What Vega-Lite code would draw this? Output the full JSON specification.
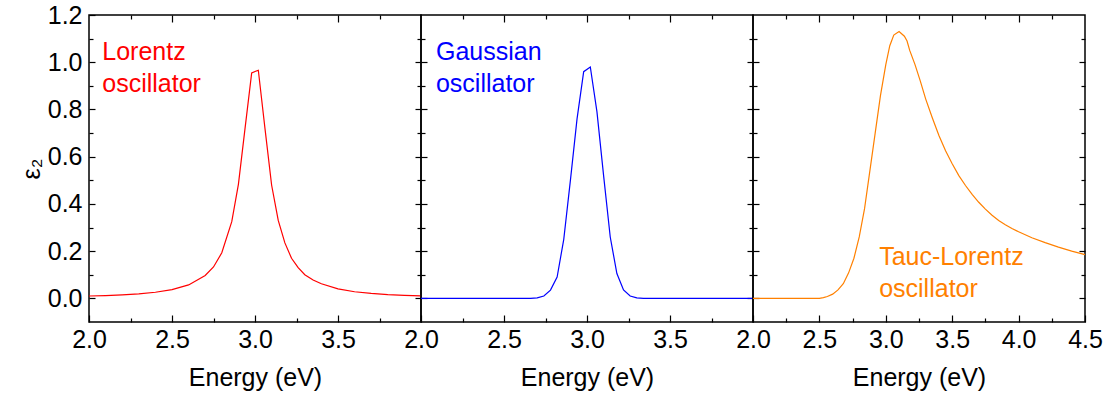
{
  "$schema": "https://vega.github.io/schema/vega-lite/v6.json",
  "padding": {"left": 18, "top": 2, "right": 5, "bottom": 4},
  "spacing": 0,
  "bounds": "flush",
  "config": {
    "font": "Liberation Sans",
    "view": {"stroke": "#000000", "strokeWidth": 1.5},
    "axis": {
      "labelFont": "Liberation Sans", "titleFont": "Liberation Sans",
      "labelFontSize": 25, "titleFontSize": 25, "titleFontWeight": "normal",
      "labelColor": "#000000", "titleColor": "#000000", "tickColor": "#000000",
      "tickWidth": 1.2, "grid": false, "domain": false, "labelFlush": false, "labelOverlap": false
    }
  },
  "datasets": {
    "lorentz": [
      {"E": 2.0, "eps": 0.010}, {"E": 2.1, "eps": 0.012}, {"E": 2.2, "eps": 0.015}, {"E": 2.3, "eps": 0.019},
      {"E": 2.4, "eps": 0.026}, {"E": 2.5, "eps": 0.037}, {"E": 2.6, "eps": 0.057}, {"E": 2.7, "eps": 0.097},
      {"E": 2.75, "eps": 0.133}, {"E": 2.8, "eps": 0.193}, {"E": 2.86, "eps": 0.325}, {"E": 2.9, "eps": 0.483},
      {"E": 2.94, "eps": 0.72}, {"E": 2.98, "eps": 0.955}, {"E": 3.02, "eps": 0.966}, {"E": 3.06, "eps": 0.72},
      {"E": 3.1, "eps": 0.48}, {"E": 3.14, "eps": 0.33}, {"E": 3.18, "eps": 0.235}, {"E": 3.22, "eps": 0.17},
      {"E": 3.26, "eps": 0.13}, {"E": 3.3, "eps": 0.10}, {"E": 3.35, "eps": 0.078}, {"E": 3.4, "eps": 0.062},
      {"E": 3.5, "eps": 0.040}, {"E": 3.6, "eps": 0.028}, {"E": 3.7, "eps": 0.021}, {"E": 3.8, "eps": 0.016},
      {"E": 3.9, "eps": 0.013}, {"E": 4.0, "eps": 0.011}
    ],
    "gauss": [
      {"E": 2.0, "eps": 0}, {"E": 2.66, "eps": 0}, {"E": 2.7, "eps": 0.002}, {"E": 2.74, "eps": 0.010},
      {"E": 2.78, "eps": 0.035}, {"E": 2.82, "eps": 0.09}, {"E": 2.86, "eps": 0.25}, {"E": 2.9, "eps": 0.50},
      {"E": 2.94, "eps": 0.76}, {"E": 2.98, "eps": 0.96}, {"E": 3.02, "eps": 0.98}, {"E": 3.06, "eps": 0.79},
      {"E": 3.1, "eps": 0.52}, {"E": 3.14, "eps": 0.26}, {"E": 3.18, "eps": 0.105}, {"E": 3.22, "eps": 0.036},
      {"E": 3.26, "eps": 0.010}, {"E": 3.3, "eps": 0.002}, {"E": 3.34, "eps": 0}, {"E": 4.0, "eps": 0}
    ],
    "tauc": [
      {"E": 2.0, "eps": 0}, {"E": 2.5, "eps": 0}, {"E": 2.53, "eps": 0.003}, {"E": 2.56, "eps": 0.008},
      {"E": 2.6, "eps": 0.018}, {"E": 2.64, "eps": 0.036}, {"E": 2.68, "eps": 0.062}, {"E": 2.72, "eps": 0.108},
      {"E": 2.76, "eps": 0.17}, {"E": 2.8, "eps": 0.26}, {"E": 2.84, "eps": 0.38}, {"E": 2.88, "eps": 0.54},
      {"E": 2.92, "eps": 0.70}, {"E": 2.96, "eps": 0.86}, {"E": 3.0, "eps": 0.99}, {"E": 3.03, "eps": 1.07},
      {"E": 3.06, "eps": 1.115}, {"E": 3.1, "eps": 1.13}, {"E": 3.14, "eps": 1.11}, {"E": 3.16, "eps": 1.09},
      {"E": 3.18, "eps": 1.05}, {"E": 3.22, "eps": 0.99}, {"E": 3.26, "eps": 0.92}, {"E": 3.3, "eps": 0.845},
      {"E": 3.35, "eps": 0.765}, {"E": 3.4, "eps": 0.69}, {"E": 3.45, "eps": 0.625}, {"E": 3.5, "eps": 0.57},
      {"E": 3.55, "eps": 0.52}, {"E": 3.6, "eps": 0.478}, {"E": 3.65, "eps": 0.44}, {"E": 3.7, "eps": 0.407},
      {"E": 3.75, "eps": 0.378}, {"E": 3.8, "eps": 0.352}, {"E": 3.85, "eps": 0.33}, {"E": 3.9, "eps": 0.312},
      {"E": 3.95, "eps": 0.296}, {"E": 4.0, "eps": 0.282}, {"E": 4.1, "eps": 0.257}, {"E": 4.2, "eps": 0.236},
      {"E": 4.3, "eps": 0.217}, {"E": 4.4, "eps": 0.20}, {"E": 4.5, "eps": 0.185}
    ]
  },
  "hconcat": [
    {
      "width": 332, "height": 307,
      "data": {"name": "lorentz"},
      "layer": [
        {"mark": {"type": "line", "color": "#ff0000", "strokeWidth": 1.2},
         "encoding": {
           "x": {"field": "E", "type": "quantitative", "scale": {"domain": [2, 4], "nice": false},
                 "axis": {"orient": "bottom", "values": [2, 2.5, 3, 3.5], "format": ".1f", "tickSize": -7, "labelPadding": 12, "title": "Energy (eV)", "titlePadding": 13}},
           "y": {"field": "eps", "type": "quantitative", "scale": {"domain": [-0.1, 1.2], "nice": false, "zero": false},
                 "axis": {"orient": "left", "values": [0, 0.2, 0.4, 0.6, 0.8, 1.0, 1.2], "format": ".1f", "tickSize": -6, "labelPadding": 13, "title": "ε₂", "titlePadding": 3}}
         }},
        {"mark": {"type": "line", "strokeOpacity": 0},
         "encoding": {
           "x": {"field": "E", "type": "quantitative", "scale": {"domain": [2, 4], "nice": false},
                 "axis": {"orient": "bottom", "values": [2.25, 2.75, 3.25, 3.75], "labels": false, "tickSize": -4, "title": null}},
           "y": {"field": "eps", "type": "quantitative", "scale": {"domain": [-0.1, 1.2], "nice": false, "zero": false},
                 "axis": {"orient": "left", "values": [0.1, 0.3, 0.5, 0.7, 0.9, 1.1], "labels": false, "tickSize": -4, "title": null}}
         }},
        {"mark": {"type": "line", "strokeOpacity": 0},
         "encoding": {
           "x": {"field": "E", "type": "quantitative", "scale": {"domain": [2, 4], "nice": false},
                 "axis": {"orient": "top", "values": [2.5, 3, 3.5], "labels": false, "tickSize": -7, "title": null}},
           "y": {"field": "eps", "type": "quantitative", "scale": {"domain": [-0.1, 1.2], "nice": false, "zero": false},
                 "axis": {"orient": "right", "values": [0, 0.2, 0.4, 0.6, 0.8, 1.0], "labels": false, "tickSize": -6, "title": null}}
         }},
        {"mark": {"type": "line", "strokeOpacity": 0},
         "encoding": {
           "x": {"field": "E", "type": "quantitative", "scale": {"domain": [2, 4], "nice": false},
                 "axis": {"orient": "top", "values": [2.25, 2.75, 3.25, 3.75], "labels": false, "tickSize": -4, "title": null}},
           "y": {"field": "eps", "type": "quantitative", "scale": {"domain": [-0.1, 1.2], "nice": false, "zero": false},
                 "axis": {"orient": "right", "values": [0.1, 0.3, 0.5, 0.7, 0.9, 1.1], "labels": false, "tickSize": -4, "title": null}}
         }},
        {"data": {"values": [{"label": "Lorentz"}]},
         "mark": {"type": "text", "color": "#ff0000", "fontSize": 25, "font": "Liberation Sans", "align": "left", "baseline": "alphabetic", "lineHeight": 32, "text": ["Lorentz", "oscillator"]},
         "encoding": {
           "x": {"datum": 2.08, "type": "quantitative", "axis": null},
           "y": {"datum": 1.01, "type": "quantitative", "axis": null}
         }}
      ],
      "resolve": {"axis": {"x": "independent", "y": "independent"}}
    },
    {
      "width": 332, "height": 307,
      "data": {"name": "gauss"},
      "layer": [
        {"mark": {"type": "line", "color": "#0000ff", "strokeWidth": 1.2},
         "encoding": {
           "x": {"field": "E", "type": "quantitative", "scale": {"domain": [2, 4], "nice": false},
                 "axis": {"orient": "bottom", "values": [2, 2.5, 3, 3.5], "format": ".1f", "tickSize": -7, "labelPadding": 12, "title": "Energy (eV)", "titlePadding": 13}},
           "y": {"field": "eps", "type": "quantitative", "scale": {"domain": [-0.1, 1.2], "nice": false, "zero": false},
                 "axis": {"orient": "left", "values": [0, 0.2, 0.4, 0.6, 0.8, 1.0], "labels": false, "tickSize": -6, "title": null}}
         }},
        {"mark": {"type": "line", "strokeOpacity": 0},
         "encoding": {
           "x": {"field": "E", "type": "quantitative", "scale": {"domain": [2, 4], "nice": false},
                 "axis": {"orient": "bottom", "values": [2.25, 2.75, 3.25, 3.75], "labels": false, "tickSize": -4, "title": null}},
           "y": {"field": "eps", "type": "quantitative", "scale": {"domain": [-0.1, 1.2], "nice": false, "zero": false},
                 "axis": {"orient": "left", "values": [0.1, 0.3, 0.5, 0.7, 0.9, 1.1], "labels": false, "tickSize": -4, "title": null}}
         }},
        {"mark": {"type": "line", "strokeOpacity": 0},
         "encoding": {
           "x": {"field": "E", "type": "quantitative", "scale": {"domain": [2, 4], "nice": false},
                 "axis": {"orient": "top", "values": [2.5, 3, 3.5], "labels": false, "tickSize": -7, "title": null}},
           "y": {"field": "eps", "type": "quantitative", "scale": {"domain": [-0.1, 1.2], "nice": false, "zero": false},
                 "axis": {"orient": "right", "values": [0, 0.2, 0.4, 0.6, 0.8, 1.0], "labels": false, "tickSize": -6, "title": null}}
         }},
        {"mark": {"type": "line", "strokeOpacity": 0},
         "encoding": {
           "x": {"field": "E", "type": "quantitative", "scale": {"domain": [2, 4], "nice": false},
                 "axis": {"orient": "top", "values": [2.25, 2.75, 3.25, 3.75], "labels": false, "tickSize": -4, "title": null}},
           "y": {"field": "eps", "type": "quantitative", "scale": {"domain": [-0.1, 1.2], "nice": false, "zero": false},
                 "axis": {"orient": "right", "values": [0.1, 0.3, 0.5, 0.7, 0.9, 1.1], "labels": false, "tickSize": -4, "title": null}}
         }},
        {"data": {"values": [{"label": "Gaussian"}]},
         "mark": {"type": "text", "color": "#0000ff", "fontSize": 25, "font": "Liberation Sans", "align": "left", "baseline": "alphabetic", "lineHeight": 32, "text": ["Gaussian", "oscillator"]},
         "encoding": {
           "x": {"datum": 2.09, "type": "quantitative", "axis": null},
           "y": {"datum": 1.01, "type": "quantitative", "axis": null}
         }}
      ],
      "resolve": {"axis": {"x": "independent", "y": "independent"}}
    },
    {
      "width": 332, "height": 307,
      "data": {"name": "tauc"},
      "layer": [
        {"mark": {"type": "line", "color": "#ff8000", "strokeWidth": 1.2},
         "encoding": {
           "x": {"field": "E", "type": "quantitative", "scale": {"domain": [2, 4.5], "nice": false},
                 "axis": {"orient": "bottom", "values": [2, 2.5, 3, 3.5, 4, 4.5], "format": ".1f", "tickSize": -7, "labelPadding": 12, "title": "Energy (eV)", "titlePadding": 13}},
           "y": {"field": "eps", "type": "quantitative", "scale": {"domain": [-0.1, 1.2], "nice": false, "zero": false},
                 "axis": {"orient": "left", "values": [0, 0.2, 0.4, 0.6, 0.8, 1.0], "labels": false, "tickSize": -6, "title": null}}
         }},
        {"mark": {"type": "line", "strokeOpacity": 0},
         "encoding": {
           "x": {"field": "E", "type": "quantitative", "scale": {"domain": [2, 4.5], "nice": false},
                 "axis": {"orient": "bottom", "values": [2.25, 2.75, 3.25, 3.75, 4.25], "labels": false, "tickSize": -4, "title": null}},
           "y": {"field": "eps", "type": "quantitative", "scale": {"domain": [-0.1, 1.2], "nice": false, "zero": false},
                 "axis": {"orient": "left", "values": [0.1, 0.3, 0.5, 0.7, 0.9, 1.1], "labels": false, "tickSize": -4, "title": null}}
         }},
        {"mark": {"type": "line", "strokeOpacity": 0},
         "encoding": {
           "x": {"field": "E", "type": "quantitative", "scale": {"domain": [2, 4.5], "nice": false},
                 "axis": {"orient": "top", "values": [2.5, 3, 3.5, 4], "labels": false, "tickSize": -7, "title": null}},
           "y": {"field": "eps", "type": "quantitative", "scale": {"domain": [-0.1, 1.2], "nice": false, "zero": false},
                 "axis": {"orient": "right", "values": [0, 0.2, 0.4, 0.6, 0.8, 1.0], "labels": false, "tickSize": -6, "title": null}}
         }},
        {"mark": {"type": "line", "strokeOpacity": 0},
         "encoding": {
           "x": {"field": "E", "type": "quantitative", "scale": {"domain": [2, 4.5], "nice": false},
                 "axis": {"orient": "top", "values": [2.25, 2.75, 3.25, 3.75, 4.25], "labels": false, "tickSize": -4, "title": null}},
           "y": {"field": "eps", "type": "quantitative", "scale": {"domain": [-0.1, 1.2], "nice": false, "zero": false},
                 "axis": {"orient": "right", "values": [0.1, 0.3, 0.5, 0.7, 0.9, 1.1], "labels": false, "tickSize": -4, "title": null}}
         }},
        {"data": {"values": [{"label": "Tauc-Lorentz"}]},
         "mark": {"type": "text", "color": "#ff8000", "fontSize": 25, "font": "Liberation Sans", "align": "left", "baseline": "alphabetic", "lineHeight": 32, "text": ["Tauc-Lorentz", "oscillator"]},
         "encoding": {
           "x": {"datum": 2.95, "type": "quantitative", "axis": null},
           "y": {"datum": 0.14, "type": "quantitative", "axis": null}
         }}
      ],
      "resolve": {"axis": {"x": "independent", "y": "independent"}}
    }
  ]
}
